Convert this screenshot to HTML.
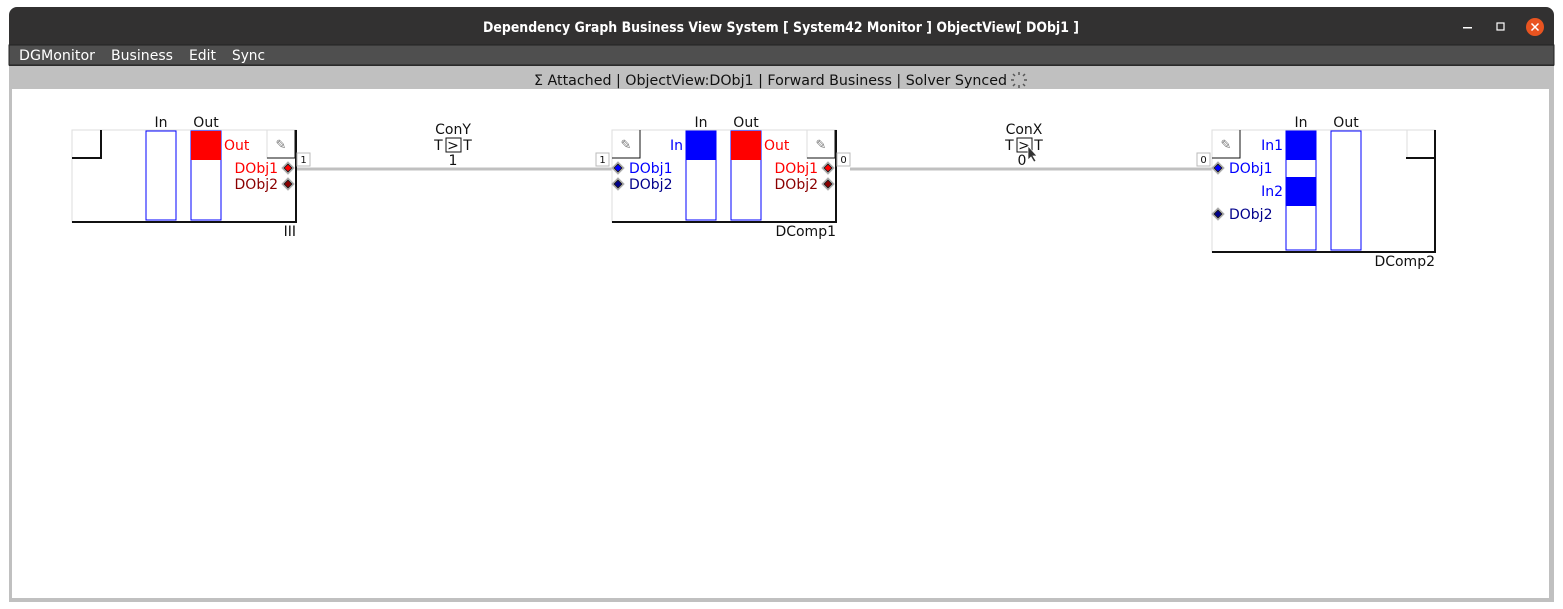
<!DOCTYPE html>
<html><head><meta charset="utf-8"><style>
html,body{margin:0;padding:0;background:#fff;width:1563px;height:609px;overflow:hidden}
svg{display:block;font-family:"DejaVu Sans","Liberation Sans",sans-serif}
</style></head><body>
<svg width="1563" height="609" viewBox="0 0 1563 609">
<defs>
<g id="dia"><path d="M0,-6 L6,0 L0,6 L-6,0Z" fill="#ddd" stroke="#aaa" stroke-width="1"/><path d="M0,-4 L4,0 L0,4 L-4,0Z" stroke="#222" stroke-width="1"/></g>
</defs>
<rect x="9" y="7" width="1545" height="595" rx="8" fill="#323131"/>
<text x="483" y="32" fill="#fff" font-size="14" font-weight="bold" textLength="596" lengthAdjust="spacingAndGlyphs">Dependency Graph Business View System [ System42 Monitor ]  ObjectView[ DObj1 ]</text>
<rect x="1463" y="27" width="9" height="1.5" fill="#fff"/>
<rect x="1497" y="23" width="7" height="7" fill="none" stroke="#fff" stroke-width="1.2"/>
<g><circle cx="1535" cy="27" r="9" fill="#e95420"/><path d="M1531.5,23.5 L1538.5,30.5 M1538.5,23.5 L1531.5,30.5" stroke="#fff" stroke-width="1.5"/></g>
<rect x="9" y="45" width="1545" height="20" fill="#4f4f4f" stroke="#222" stroke-width="1"/>
<g fill="#fff" font-size="14">
<text x="19" y="60" textLength="76" lengthAdjust="spacingAndGlyphs">DGMonitor</text>
<text x="111" y="60" textLength="62" lengthAdjust="spacingAndGlyphs">Business</text>
<text x="189" y="60" textLength="27" lengthAdjust="spacingAndGlyphs">Edit</text>
<text x="232" y="60" textLength="33" lengthAdjust="spacingAndGlyphs">Sync</text>
</g>
<rect x="9" y="66" width="1545" height="536" fill="#c0c0c0"/>
<text x="534" y="85" font-size="14" fill="#111" textLength="473" lengthAdjust="spacingAndGlyphs">Σ  Attached | ObjectView:DObj1 | Forward Business | Solver Synced</text>
<g stroke="#555" stroke-width="1.5">
<path d="M1019,72 v3 M1019,85 v3 M1011,80 h3 M1024,80 h3 M1013,74 l2,2 M1023,84 l2,2 M1025,74 l-2,2 M1013,86 l2,-2"/></g>
<rect x="12" y="89" width="1537" height="509" fill="#fff"/>

<line x1="297" y1="169" x2="612" y2="169" stroke="#c0c0c0" stroke-width="3"/>
<line x1="850" y1="169" x2="1212" y2="169" stroke="#c0c0c0" stroke-width="3"/>
<g font-size="14" fill="#111" text-anchor="middle">
<text x="453" y="134">ConY</text>
<text x="453" y="150">T <tspan>&gt;</tspan> T</text>
<text x="453" y="165">1</text>
<text x="1024" y="134">ConX</text>
<text x="1024" y="150">T <tspan>&gt;</tspan> T</text>
<text x="1022" y="165">0</text>
</g>
<rect x="446" y="138" width="15" height="14" fill="none" stroke="#111"/>
<rect x="1017" y="138" width="15" height="14" fill="none" stroke="#111"/>
<path d="M1028,146 v14 l3,-3 l3,5 l2,-1 l-3,-5 h4z" fill="#333" stroke="#fff" stroke-width="0.7"/>

<g>
<rect x="72" y="130" width="224" height="92" fill="#fff" stroke="#ddd"/>
<path d="M72,222 H296 V130" fill="none" stroke="#111" stroke-width="2"/>
<path d="M72,158 H101 V130" fill="none" stroke="#111" stroke-width="2"/>
<rect x="146" y="131" width="30" height="89" fill="#fff" stroke="#00f"/>
<rect x="191" y="131" width="30" height="89" fill="#fff" stroke="#00f"/>
<rect x="191" y="131" width="30" height="29" fill="#f00"/>
<rect x="267" y="130" width="28" height="28" fill="#fff" stroke="#ddd"/><path d="M267,158 H295 V130" fill="none" stroke="#111"/>
<text x="281" y="149" font-size="13" fill="#777" text-anchor="middle">✎</text>
<text x="161" y="127" font-size="14" fill="#111" text-anchor="middle">In</text>
<text x="206" y="127" font-size="14" fill="#111" text-anchor="middle">Out</text>
<text x="224" y="150" font-size="14" fill="#f00">Out</text>
<text x="278" y="173" font-size="14" fill="#f00" text-anchor="end">DObj1</text>
<text x="278" y="189" font-size="14" fill="#8b0000" text-anchor="end">DObj2</text>
<use href="#dia" x="288" y="168" fill="#f00"/>
<use href="#dia" x="288" y="184" fill="#8b0000"/>
<text x="296" y="236" font-size="14" fill="#111" text-anchor="end">III</text>
</g>
<g><rect x="297" y="153" width="13" height="13" fill="#fff" stroke="#bbb"/><text x="303.5" y="163" font-size="10" text-anchor="middle" fill="#111">1</text></g>

<g>
<rect x="612" y="130" width="224" height="92" fill="#fff" stroke="#ddd"/>
<path d="M612,222 H836 V130" fill="none" stroke="#111" stroke-width="2"/>
<rect x="612" y="130" width="28" height="28" fill="#fff" stroke="#ddd"/><path d="M612,158 H640 V130" fill="none" stroke="#111"/>
<text x="626" y="149" font-size="13" fill="#777" text-anchor="middle">✎</text>
<rect x="807" y="130" width="28" height="28" fill="#fff" stroke="#ddd"/><path d="M807,158 H835 V130" fill="none" stroke="#111"/>
<text x="821" y="149" font-size="13" fill="#777" text-anchor="middle">✎</text>
<rect x="686" y="131" width="30" height="89" fill="#fff" stroke="#00f"/>
<rect x="686" y="131" width="30" height="29" fill="#00f"/>
<rect x="731" y="131" width="30" height="89" fill="#fff" stroke="#00f"/>
<rect x="731" y="131" width="30" height="29" fill="#f00"/>
<text x="701" y="127" font-size="14" fill="#111" text-anchor="middle">In</text>
<text x="746" y="127" font-size="14" fill="#111" text-anchor="middle">Out</text>
<text x="683" y="150" font-size="14" fill="#00f" text-anchor="end">In</text>
<text x="764" y="150" font-size="14" fill="#f00">Out</text>
<use href="#dia" x="618" y="168" fill="#00f"/>
<use href="#dia" x="618" y="184" fill="#00008b"/>
<text x="629" y="173" font-size="14" fill="#00f">DObj1</text>
<text x="629" y="189" font-size="14" fill="#00008b">DObj2</text>
<text x="818" y="173" font-size="14" fill="#f00" text-anchor="end">DObj1</text>
<text x="818" y="189" font-size="14" fill="#8b0000" text-anchor="end">DObj2</text>
<use href="#dia" x="828" y="168" fill="#f00"/>
<use href="#dia" x="828" y="184" fill="#8b0000"/>
<text x="836" y="236" font-size="14" fill="#111" text-anchor="end">DComp1</text>
</g>
<g><rect x="596" y="153" width="13" height="13" fill="#fff" stroke="#bbb"/><text x="602.5" y="163" font-size="10" text-anchor="middle" fill="#111">1</text></g>
<g><rect x="837" y="153" width="13" height="13" fill="#fff" stroke="#bbb"/><text x="843.5" y="163" font-size="10" text-anchor="middle" fill="#111">0</text></g>

<g>
<rect x="1212" y="130" width="223" height="122" fill="#fff" stroke="#ddd"/>
<path d="M1212,252 H1435 V130" fill="none" stroke="#111" stroke-width="2"/>
<rect x="1212" y="130" width="28" height="28" fill="#fff" stroke="#ddd"/><path d="M1212,158 H1240 V130" fill="none" stroke="#111"/>
<text x="1226" y="149" font-size="13" fill="#777" text-anchor="middle">✎</text>
<path d="M1407,158 V130" stroke="#ddd"/><path d="M1406,158 H1435" stroke="#111" stroke-width="2"/>
<rect x="1286" y="131" width="30" height="119" fill="#fff" stroke="#00f"/>
<rect x="1286" y="131" width="30" height="29" fill="#00f"/>
<rect x="1286" y="177" width="30" height="29" fill="#00f"/>
<rect x="1331" y="131" width="30" height="119" fill="#fff" stroke="#00f"/>
<text x="1301" y="127" font-size="14" fill="#111" text-anchor="middle">In</text>
<text x="1346" y="127" font-size="14" fill="#111" text-anchor="middle">Out</text>
<text x="1283" y="150" font-size="14" fill="#00f" text-anchor="end">In1</text>
<text x="1283" y="196" font-size="14" fill="#00f" text-anchor="end">In2</text>
<use href="#dia" x="1218" y="168" fill="#00f"/>
<use href="#dia" x="1218" y="214" fill="#00008b"/>
<text x="1229" y="173" font-size="14" fill="#00f">DObj1</text>
<text x="1229" y="219" font-size="14" fill="#00008b">DObj2</text>
<text x="1435" y="266" font-size="14" fill="#111" text-anchor="end">DComp2</text>
</g>
<g><rect x="1197" y="153" width="13" height="13" fill="#fff" stroke="#bbb"/><text x="1203.5" y="163" font-size="10" text-anchor="middle" fill="#111">0</text></g>
</svg>
</body></html>
